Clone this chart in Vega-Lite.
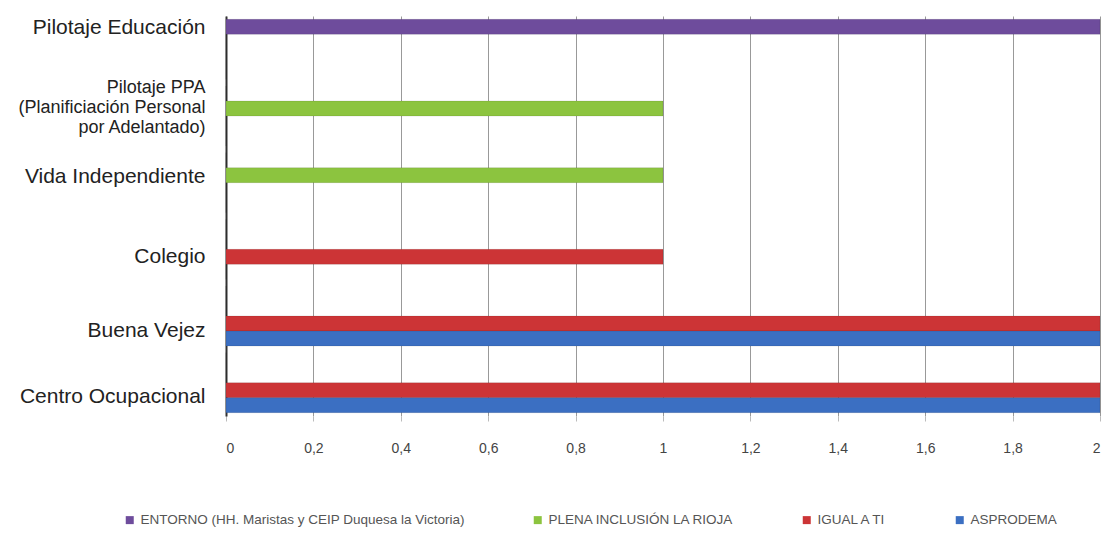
{
  "$schema": "https://vega.github.io/schema/vega-lite/v6.json",
  "width": 874,
  "height": 400,
  "padding": {"top": 16, "left": 17, "right": 12, "bottom": 8},
  "background": "white",
  "config": {"view": {"stroke": null}},
  "data": {
    "values": [
      {"categoria": "Pilotaje Educación", "serie": "ENTORNO (HH. Maristas y CEIP Duquesa la Victoria)", "valor": 2},
      {"categoria": "Pilotaje Educación", "serie": "PLENA INCLUSIÓN LA RIOJA", "valor": 0},
      {"categoria": "Pilotaje Educación", "serie": "IGUAL A TI", "valor": 0},
      {"categoria": "Pilotaje Educación", "serie": "ASPRODEMA", "valor": 0},
      {"categoria": "Pilotaje PPA|(Planificiación Personal|por Adelantado)", "serie": "ENTORNO (HH. Maristas y CEIP Duquesa la Victoria)", "valor": 0},
      {"categoria": "Pilotaje PPA|(Planificiación Personal|por Adelantado)", "serie": "PLENA INCLUSIÓN LA RIOJA", "valor": 1},
      {"categoria": "Pilotaje PPA|(Planificiación Personal|por Adelantado)", "serie": "IGUAL A TI", "valor": 0},
      {"categoria": "Pilotaje PPA|(Planificiación Personal|por Adelantado)", "serie": "ASPRODEMA", "valor": 0},
      {"categoria": "Vida  Independiente", "serie": "ENTORNO (HH. Maristas y CEIP Duquesa la Victoria)", "valor": 0},
      {"categoria": "Vida  Independiente", "serie": "PLENA INCLUSIÓN LA RIOJA", "valor": 1},
      {"categoria": "Vida  Independiente", "serie": "IGUAL A TI", "valor": 0},
      {"categoria": "Vida  Independiente", "serie": "ASPRODEMA", "valor": 0},
      {"categoria": "Colegio", "serie": "ENTORNO (HH. Maristas y CEIP Duquesa la Victoria)", "valor": 0},
      {"categoria": "Colegio", "serie": "PLENA INCLUSIÓN LA RIOJA", "valor": 0},
      {"categoria": "Colegio", "serie": "IGUAL A TI", "valor": 1},
      {"categoria": "Colegio", "serie": "ASPRODEMA", "valor": 0},
      {"categoria": "Buena Vejez", "serie": "ENTORNO (HH. Maristas y CEIP Duquesa la Victoria)", "valor": 0},
      {"categoria": "Buena Vejez", "serie": "PLENA INCLUSIÓN LA RIOJA", "valor": 0},
      {"categoria": "Buena Vejez", "serie": "IGUAL A TI", "valor": 2},
      {"categoria": "Buena Vejez", "serie": "ASPRODEMA", "valor": 2},
      {"categoria": "Centro Ocupacional", "serie": "ENTORNO (HH. Maristas y CEIP Duquesa la Victoria)", "valor": 0},
      {"categoria": "Centro Ocupacional", "serie": "PLENA INCLUSIÓN LA RIOJA", "valor": 0},
      {"categoria": "Centro Ocupacional", "serie": "IGUAL A TI", "valor": 2},
      {"categoria": "Centro Ocupacional", "serie": "ASPRODEMA", "valor": 2}
    ]
  },
  "mark": {"type": "bar", "stroke": "#00000033", "strokeWidth": 0.5},
  "encoding": {
    "y": {
      "field": "categoria",
      "type": "nominal",
      "sort": ["Pilotaje Educación", "Pilotaje PPA|(Planificiación Personal|por Adelantado)", "Vida  Independiente", "Colegio", "Buena Vejez", "Centro Ocupacional"],
      "scale": {"paddingInner": 0.1, "paddingOuter": 0.05},
      "axis": {
        "title": null,
        "labelExpr": "split(datum.label, '|')",
        "labelFont": "Liberation Sans",
        "labelFontSize": {"condition": {"test": "indexof(datum.value, '|') >= 0", "value": 18}, "value": 21},
        "labelOffset": {
          "condition": [
            {"test": "datum.value == 'Pilotaje Educación'", "value": -21},
            {"test": "indexof(datum.value, '|') >= 0", "value": -28},
            {"test": "datum.value == 'Vida  Independiente'", "value": -6},
            {"test": "datum.value == 'Colegio'", "value": 8},
            {"test": "datum.value == 'Buena Vejez'", "value": 15},
            {"test": "datum.value == 'Centro Ocupacional'", "value": 14}
          ],
          "value": 0
        },
        "labelLineHeight": 20,
        "labelColor": "#222222",
        "labelPadding": 21,
        "labelLimit": 0,
        "ticks": false,
        "domainColor": "#333333",
        "domainWidth": 2
      }
    },
    "yOffset": {
      "field": "serie",
      "sort": ["ENTORNO (HH. Maristas y CEIP Duquesa la Victoria)", "PLENA INCLUSIÓN LA RIOJA", "IGUAL A TI", "ASPRODEMA"],
      "scale": {"paddingInner": 0, "paddingOuter": 0}
    },
    "x": {
      "field": "valor",
      "type": "quantitative",
      "scale": {"domain": [0, 2], "nice": false},
      "axis": {
        "title": null,
        "values": [0, 0.2, 0.4, 0.6, 0.8, 1, 1.2, 1.4, 1.6, 1.8, 2],
        "labelExpr": "replace(format(datum.value, '~g'), '.', ',')",
        "labelFont": "Liberation Sans",
        "labelFontSize": 14,
        "labelColor": "#444444",
        "labelPadding": 20,
        "grid": true,
        "gridColor": "#999999",
        "domain": false,
        "tickColor": "#bbbbbb",
        "tickSize": 5
      }
    },
    "color": {
      "field": "serie",
      "type": "nominal",
      "scale": {
        "domain": ["ENTORNO (HH. Maristas y CEIP Duquesa la Victoria)", "PLENA INCLUSIÓN LA RIOJA", "IGUAL A TI", "ASPRODEMA"],
        "range": ["#6e4c9c", "#8cc43f", "#cc3436", "#3b6fc2"]
      },
      "legend": {
        "title": null,
        "orient": "none",
        "legendX": -103,
        "legendY": 497,
        "direction": "horizontal",
        "symbolType": "square",
        "symbolSize": 64,
        "symbolStrokeWidth": 0,
        "labelFont": "Liberation Sans",
        "labelFontSize": 13.5,
        "labelColor": "#555555",
        "labelLimit": 0,
        "columnPadding": 66
      }
    }
  }
}
